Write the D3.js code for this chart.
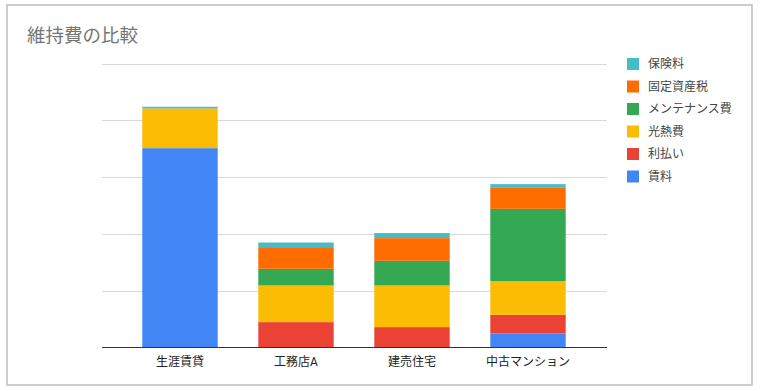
<!DOCTYPE html>
<html><head><meta charset="utf-8">
<script src="https://cdn.jsdelivr.net/npm/d3@7"></script>
<style>
html,body{margin:0;padding:0;background:#fff;}
svg{display:block;font-family:Roboto,"Noto Sans CJK JP",sans-serif;}
</style></head>
<body>
<svg id="chart" width="761" height="391"></svg>
<script>
const categories = ["生涯賃貸", "工務店A", "建売住宅", "中古マンション"];
const seriesNames = ["賃料", "利払い", "光熱費", "メンテナンス費", "固定資産税", "保険料"];
const rent        = [3510,   0,   0,  246];
const interest    = [   0, 447, 359,  329];
const utilities   = [ 700, 644, 732,  593];
const maintenance = [   0, 294, 435, 1273];
const propertyTax = [   0, 382, 400,  370];
const insurance   = [  28,  81,  88,   65];
const yTicks = [0, 1000, 2000, 3000, 4000, 5000];
const colors = ["#4285F4", "#EA4335", "#FBBC04", "#34A853", "#FF6D01", "#46BDC6"];

const seriesValues = [rent, interest, utilities, maintenance, propertyTax, insurance];
const rows = categories.map((c, i) => {
  const r = {cat: c};
  seriesNames.forEach((s, k) => r[s] = seriesValues[k][i]);
  return r;
});
const stacked = d3.stack().keys(seriesNames)(rows);

const svg = d3.select("#chart");
// outer border
svg.append("rect").attr("x", 7).attr("y", 5).attr("width", 745).attr("height", 380)
  .attr("fill", "#fff").attr("stroke", "#bdbdbd").attr("stroke-width", 1.5);

svg.append("text").attr("x", 27).attr("y", 42).attr("fill", "#757575")
  .attr("font-size", 18.5).text("維持費の比較");

const y = d3.scaleLinear().domain([0, 5000]).range([347.5, 63.5]);
const x = d3.scaleBand().domain(categories).range([122, 586]).paddingInner(0.35).paddingOuter(0.175);

// gridlines
svg.append("g").selectAll("line").data(yTicks.slice(1)).join("line")
  .attr("x1", 102).attr("x2", 607)
  .attr("y1", d => Math.round(y(d)) + 0.5).attr("y2", d => Math.round(y(d)) + 0.5)
  .attr("stroke", "#d9d9d9").attr("stroke-width", 1);

// bars
svg.append("g").selectAll("g").data(stacked).join("g")
  .attr("fill", (d, i) => colors[i])
  .selectAll("rect").data(d => d).join("rect")
  .attr("x", d => x(d.data.cat))
  .attr("width", x.bandwidth())
  .attr("y", d => y(d[1]))
  .attr("height", d => Math.max(0, y(d[0]) - y(d[1])));

// baseline axis
svg.append("line").attr("x1", 102).attr("x2", 607).attr("y1", 347.5).attr("y2", 347.5)
  .attr("stroke", "#333").attr("stroke-width", 1.2);

// x axis labels
const xAxis = d3.axisBottom(x).tickSize(0).tickPadding(9);
const gx = svg.append("g").attr("transform", "translate(0,348)").call(xAxis);
gx.select(".domain").remove();
gx.selectAll("text").attr("font-size", 12).attr("fill", "#222")
  .attr("font-family", 'Roboto,"Noto Sans CJK JP",sans-serif');

// legend (reverse order)
const legendItems = seriesNames.map((s, i) => ({name: s, color: colors[i]})).reverse();
const lg = svg.append("g").selectAll("g").data(legendItems).join("g")
  .attr("transform", (d, i) => `translate(627,${64 + i * 22.5})`);
lg.append("rect").attr("x", 0).attr("y", -6).attr("width", 12).attr("height", 12)
  .attr("fill", d => d.color);
lg.append("text").attr("x", 21).attr("y", 0).attr("dy", "0.36em")
  .attr("font-size", 12).attr("fill", "#444").text(d => d.name);
</script>
</body></html>
